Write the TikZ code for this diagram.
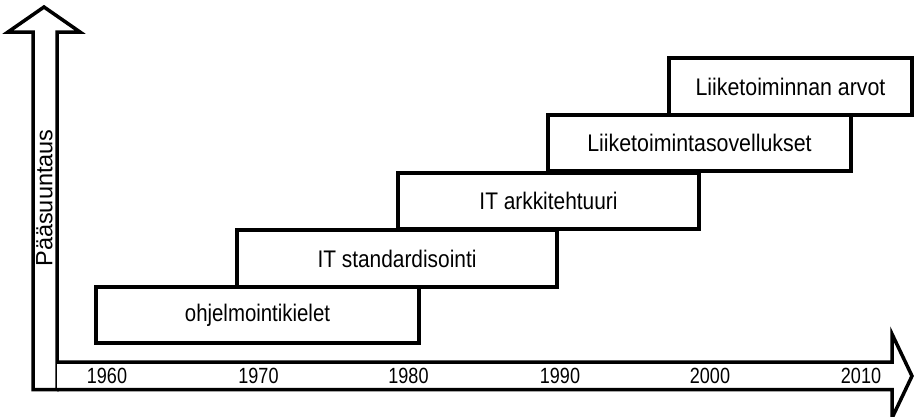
\documentclass[tikz,border=0pt]{standalone}
\usepackage{fontspec}
\setmainfont{Liberation Sans}
\usepackage{graphicx}
% narrow horizontal labels
\newcommand{\narrowtext}[2][0.87]{\scalebox{#1}[1]{#2}}
\begin{document}
\begin{tikzpicture}[x=1pt, y=-1pt, line width=3.5pt, line join=miter,
  phase/.style={draw=black, fill=white, inner sep=0pt, outer sep=0pt,
    font=\fontsize{24}{28}\selectfont},
  yearlabel/.style={inner sep=0pt, font=\fontsize{22}{26}\selectfont},
  axisarrow/.style={draw=black, fill=white, line join=miter}]
\useasboundingbox (0,0) rectangle (914,416);

% vertical arrow outline
\coordinate (vtip) at (44,7);
\coordinate (vrw) at (80,32);
\coordinate (vri) at (57,32);
\coordinate (vbr) at (57,389.5);
\coordinate (vbl) at (33,389.5);
\coordinate (vli) at (33,32);
\coordinate (vlw) at (8,32);
\draw[axisarrow] (vtip) -- (vrw) -- (vri) -- (vbr) -- (vbl) -- (vli) -- (vlw) -- cycle;

% horizontal time axis arrow
\coordinate (hst) at (57,362);
\coordinate (hht) at (892,362);
\coordinate (hwt) at (892,334);
\coordinate (htip) at (912,376);
\coordinate (hwb) at (892,418);
\coordinate (hhb) at (892,389.5);
\coordinate (hsb) at (57,389.5);
\draw[axisarrow] (hst) -- (hht) -- (hwt) -- (htip) -- (hwb) -- (hhb) -- (hsb);

% axis title
\node[inner sep=0pt, rotate=90, font=\fontsize{23.5}{28}\selectfont] (ytitle) at (44.5,198) {Pääsuuntaus};

% years
\node[yearlabel] (y1960) at (107,375.5) {\narrowtext[0.82]{1960}};
\node[yearlabel] (y1970) at (258.5,375.5) {\narrowtext[0.82]{1970}};
\node[yearlabel] (y1980) at (408.5,375.5) {\narrowtext[0.82]{1980}};
\node[yearlabel] (y1990) at (560,375.5) {\narrowtext[0.82]{1990}};
\node[yearlabel] (y2000) at (710,375.5) {\narrowtext[0.82]{2000}};
\node[yearlabel] (y2010) at (861,375.5) {\narrowtext[0.82]{2010}};

% phases
\node[phase, minimum width=323pt, minimum height=56pt] (p1) at (257.5,315) {\narrowtext[0.85]{ohjelmointikielet}};
\node[phase, minimum width=320pt, minimum height=57pt] (p2) at (397,258.5) {\narrowtext{IT standardisointi}};
\node[phase, minimum width=301pt, minimum height=56pt] (p3) at (548.5,201) {\narrowtext{IT arkkitehtuuri}};
\node[phase, minimum width=303pt, minimum height=56pt] (p4) at (699.5,143) {\narrowtext[0.89]{Liiketoimintasovellukset}};
\node[phase, minimum width=243pt, minimum height=57pt] (p5) at (790.5,86.5) {\narrowtext[0.89]{Liiketoiminnan arvot}};
\end{tikzpicture}
\end{document}
